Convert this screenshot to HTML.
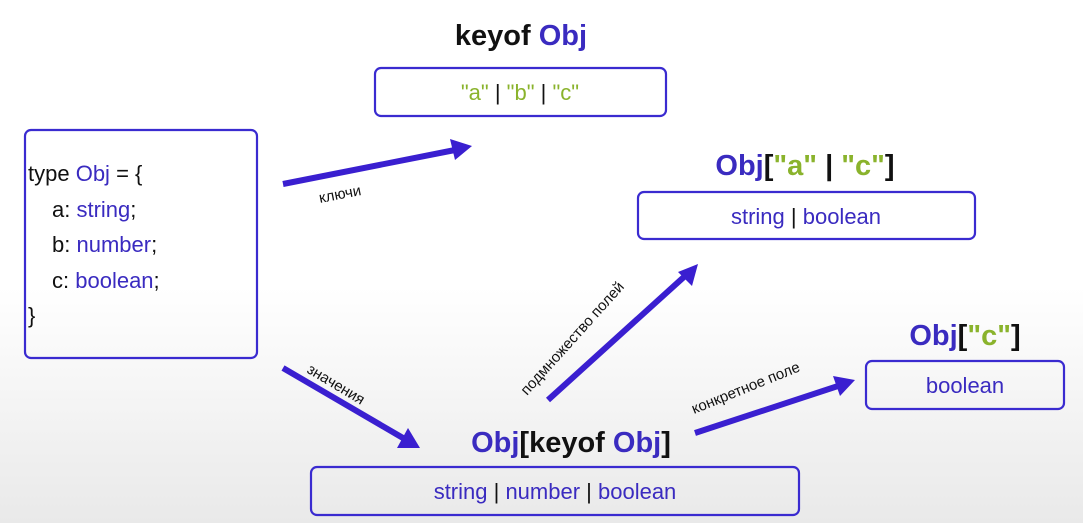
<!DOCTYPE html>
<html><head><meta charset="utf-8"><style>
html,body{margin:0;padding:0;}
body{width:1083px;height:523px;overflow:hidden;background:linear-gradient(#fff 0%,#fff 55%,#e9e9e9 100%);font-family:"Liberation Sans",sans-serif;}
</style></head><body>
<svg width="1083" height="523" xmlns="http://www.w3.org/2000/svg" font-family="Liberation Sans, sans-serif">
<g fill="none" stroke="#3a2bd0" stroke-width="2.2">
<rect x="25" y="130" width="232" height="228" rx="6"/>
<rect x="375" y="68" width="291" height="48" rx="6"/>
<rect x="638" y="192" width="337" height="47" rx="6"/>
<rect x="866" y="361" width="198" height="48" rx="6"/>
<rect x="311" y="467" width="488" height="48" rx="6"/>
</g>
<g stroke="#3a1fd0" stroke-width="6" fill="#3a1fd0">
<line x1="283" y1="184" x2="455" y2="150"/>
<line x1="283" y1="368" x2="403" y2="438"/>
<line x1="548" y1="400" x2="685" y2="276"/>
<line x1="695" y1="433" x2="838" y2="386"/>
</g>
<g fill="#3a1fd0">
<polygon points="472,146 450,139 455,160"/>
<polygon points="420,448 397,448 408,428"/>
<polygon points="698,264 678,272 692,286"/>
<polygon points="855,380 833,376 840,396"/>
</g>
<g font-size="22" fill="#111">
<text x="28" y="181">type <tspan fill="#3a2bc0">Obj</tspan> = {</text>
<text x="52" y="217">a: <tspan fill="#3a2bc0">string</tspan>;</text>
<text x="52" y="252">b: <tspan fill="#3a2bc0">number</tspan>;</text>
<text x="52" y="288">c: <tspan fill="#3a2bc0">boolean</tspan>;</text>
<text x="28" y="323">}</text>
</g>
<g font-weight="bold" font-size="29" fill="#111" text-anchor="middle">
<text x="521" y="45">keyof <tspan fill="#3a2bc0">Obj</tspan></text>
<text x="805" y="175"><tspan fill="#3a2bc0">Obj</tspan>[<tspan fill="#8ab32c">"a"</tspan> | <tspan fill="#8ab32c">"c"</tspan>]</text>
<text x="965" y="345"><tspan fill="#3a2bc0">Obj</tspan>[<tspan fill="#8ab32c">"c"</tspan>]</text>
<text x="571" y="452"><tspan fill="#3a2bc0">Obj</tspan>[keyof <tspan fill="#3a2bc0">Obj</tspan>]</text>
</g>
<g font-size="22" text-anchor="middle" fill="#111">
<text x="520" y="100" fill="#8ab32c">"a" <tspan fill="#111">|</tspan> "b" <tspan fill="#111">|</tspan> "c"</text>
<text x="806" y="224"><tspan fill="#3a2bc0">string</tspan> | <tspan fill="#3a2bc0">boolean</tspan></text>
<text x="965" y="393" fill="#3a2bc0">boolean</text>
<text x="555" y="499"><tspan fill="#3a2bc0">string</tspan> | <tspan fill="#3a2bc0">number</tspan> | <tspan fill="#3a2bc0">boolean</tspan></text>
</g>
<g font-size="15" fill="#111">
<text transform="translate(320,203) rotate(-11)">ключи</text>
<text transform="translate(306,372) rotate(31)">значения</text>
<text transform="translate(527,396) rotate(-48)">подмножество полей</text>
<text transform="translate(694,414) rotate(-22)">конкретное поле</text>
</g>
</svg>
</body></html>
